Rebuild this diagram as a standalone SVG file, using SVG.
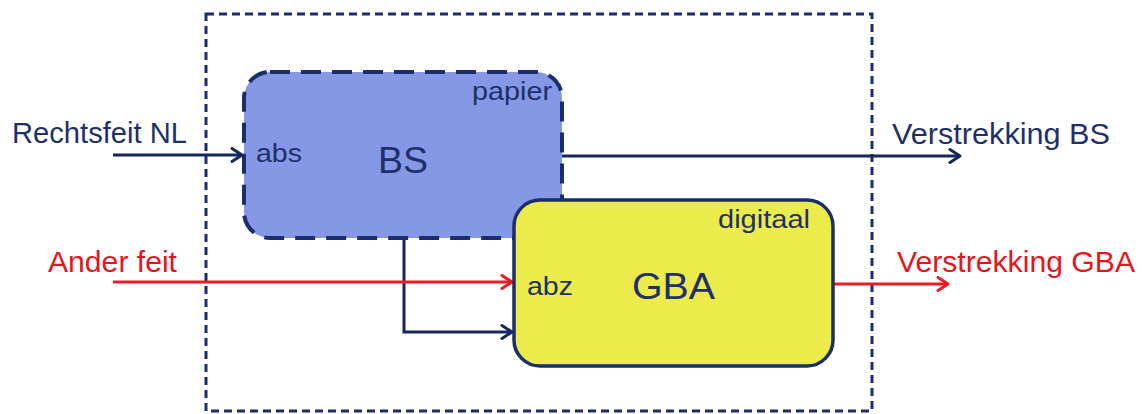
<svg xmlns="http://www.w3.org/2000/svg" width="1147" height="414" viewBox="0 0 1147 414">
  <defs>
    <marker id="arrowNavy" viewBox="0 0 14 16" refX="12" refY="8" markerWidth="14" markerHeight="16" markerUnits="userSpaceOnUse" orient="auto">
      <path d="M2,1.5 L12,8 L2,14.5" fill="none" stroke="#15275f" stroke-width="3" stroke-linecap="round" stroke-linejoin="round"/>
    </marker>
    <marker id="arrowRed" viewBox="0 0 14 16" refX="12" refY="8" markerWidth="14" markerHeight="16" markerUnits="userSpaceOnUse" orient="auto">
      <path d="M2,1.5 L12,8 L2,14.5" fill="none" stroke="#ec1c24" stroke-width="3" stroke-linecap="round" stroke-linejoin="round"/>
    </marker>
  </defs>
  <style>
    .lbl { font-family: "Liberation Sans", Arial, sans-serif; }
    .navy { fill: #1f2f6b; }
    .red { fill: #e8141c; }
    .edge-navy { fill: none; stroke: #15275f; stroke-width: 3; }
    .edge-red { fill: none; stroke: #ec1c24; stroke-width: 3; }
  </style>
  <rect width="1147" height="414" fill="#ffffff"/>

  <!-- system boundary -->
  <g id="boundary">
    <rect x="206" y="14" width="666" height="397" fill="none" stroke="#1b2d6b" stroke-width="3" stroke-dasharray="8 5"/>
  </g>

  <!-- connectors -->
  <g id="connectors">
    <line class="edge-navy" x1="113" y1="155" x2="242" y2="155" marker-end="url(#arrowNavy)"/>
    <line class="edge-navy" x1="562" y1="156" x2="960" y2="156" marker-end="url(#arrowNavy)"/>
    <polyline class="edge-navy" points="404,238 404,332 512,332" marker-end="url(#arrowNavy)"/>
    <line class="edge-red" x1="113" y1="282" x2="512" y2="282" marker-end="url(#arrowRed)"/>
    <line class="edge-red" x1="833" y1="284" x2="948" y2="284" marker-end="url(#arrowRed)"/>
  </g>

  <!-- BS node -->
  <g id="node-bs">
    <rect x="244" y="72" width="318" height="166" rx="26" ry="26" fill="#8498e5" stroke="#1b2d6b" stroke-width="4" stroke-dasharray="20 11"/>
    <text class="lbl navy" x="472" y="100" font-size="26" textLength="80" lengthAdjust="spacingAndGlyphs">papier</text>
    <text class="lbl navy" x="256" y="162" font-size="26" textLength="46" lengthAdjust="spacingAndGlyphs">abs</text>
    <text class="lbl navy" x="378" y="173" font-size="37" textLength="50" lengthAdjust="spacingAndGlyphs">BS</text>
  </g>

  <!-- GBA node -->
  <g id="node-gba">
    <rect x="514" y="200" width="319" height="166" rx="26" ry="26" fill="#ebeb4b" stroke="#1b2d6b" stroke-width="3.5"/>
    <text class="lbl navy" x="718" y="228" font-size="26" textLength="92" lengthAdjust="spacingAndGlyphs">digitaal</text>
    <text class="lbl navy" x="527" y="295" font-size="26" textLength="46" lengthAdjust="spacingAndGlyphs">abz</text>
    <text class="lbl navy" x="632" y="299" font-size="36" textLength="83" lengthAdjust="spacingAndGlyphs">GBA</text>
  </g>

  <!-- external labels -->
  <g id="label-rechtsfeit">
    <text class="lbl navy" x="12" y="143" font-size="29" textLength="175" lengthAdjust="spacingAndGlyphs">Rechtsfeit NL</text>
  </g>
  <g id="label-ander">
    <text class="lbl red" x="48" y="272" font-size="29" textLength="129" lengthAdjust="spacingAndGlyphs">Ander feit</text>
  </g>
  <g id="label-verstrekking-bs">
    <text class="lbl navy" x="892" y="144" font-size="30" textLength="218" lengthAdjust="spacingAndGlyphs">Verstrekking BS</text>
  </g>
  <g id="label-verstrekking-gba">
    <text class="lbl red" x="897" y="272" font-size="30" textLength="238" lengthAdjust="spacingAndGlyphs">Verstrekking GBA</text>
  </g>
</svg>
